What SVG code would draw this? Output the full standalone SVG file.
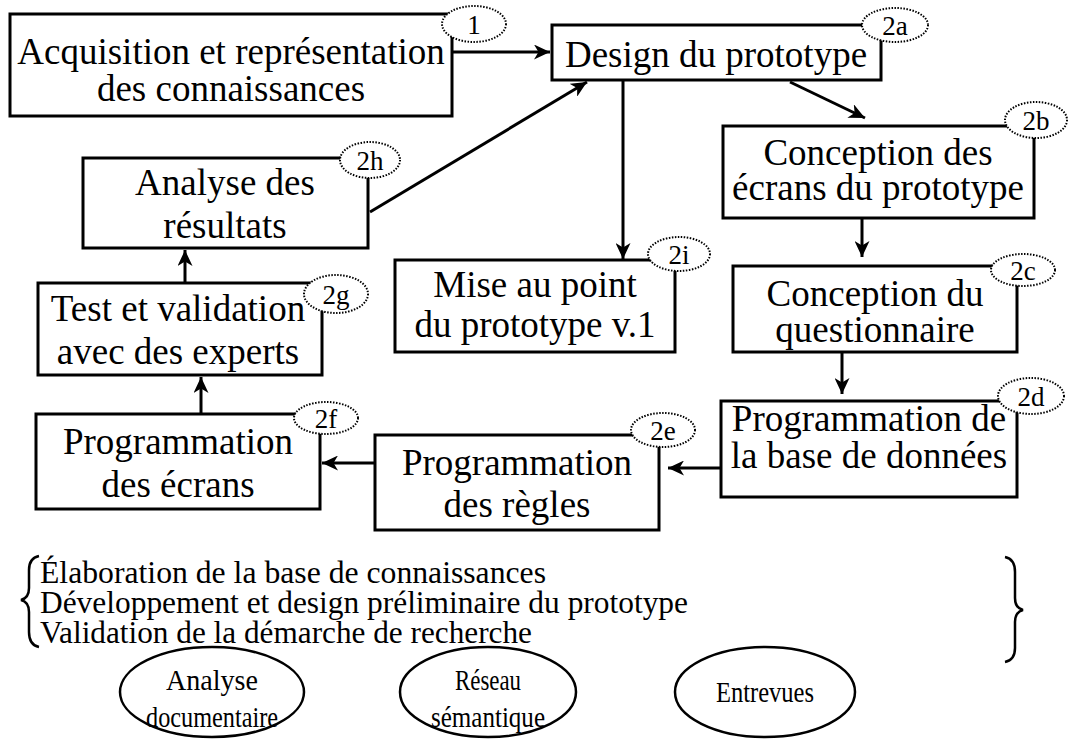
<svg xmlns="http://www.w3.org/2000/svg" width="1070" height="742" viewBox="0 0 1070 742">
<style>
.box{fill:#fff;stroke:#000;stroke-width:3}
.t{font-family:"Liberation Serif","Times New Roman",serif;font-size:37px;fill:#000;text-anchor:middle}
.tag{fill:#fff;stroke:#000;stroke-width:2;stroke-dasharray:1.5 1.5}
.tl{font-family:"Liberation Serif","Times New Roman",serif;font-size:27px;fill:#000;text-anchor:middle}
.c{fill:none;stroke:#000;stroke-width:3}
.b{font-family:"Liberation Serif","Times New Roman",serif;font-size:31px;fill:#000}
.ov{fill:#fff;stroke:#000;stroke-width:2.5}
.ot{font-family:"Liberation Serif","Times New Roman",serif;font-size:30px;fill:#000;text-anchor:middle}
</style>
<defs>
<marker id="ah" markerUnits="userSpaceOnUse" markerWidth="17" markerHeight="15" refX="16" refY="7.5" orient="auto">
<path d="M0,0 L16,7.5 L0,15 L4.5,7.5 z" fill="#000"/>
</marker>
</defs>
<rect width="1070" height="742" fill="#fff"/>

<g id="connectors">
<line class="c" x1="452" y1="52" x2="550" y2="52" marker-end="url(#ah)"/>
<line class="c" x1="623" y1="80" x2="623" y2="259" marker-end="url(#ah)"/>
<line class="c" x1="790" y1="82" x2="865" y2="118" marker-end="url(#ah)"/>
<line class="c" x1="370" y1="212" x2="587" y2="82" marker-end="url(#ah)"/>
<line class="c" x1="862" y1="218" x2="862" y2="257" marker-end="url(#ah)"/>
<line class="c" x1="842" y1="352" x2="842" y2="394" marker-end="url(#ah)"/>
<line class="c" x1="721" y1="468" x2="668" y2="468" marker-end="url(#ah)"/>
<line class="c" x1="375" y1="463" x2="322" y2="463" marker-end="url(#ah)"/>
<line class="c" x1="201" y1="414" x2="201" y2="377" marker-end="url(#ah)"/>
<line class="c" x1="185" y1="283" x2="185" y2="250" marker-end="url(#ah)"/>
</g>

<g id="n1">
<rect class="box" x="10" y="14" width="442" height="102"/>
<text class="t" x="231" y="64">Acquisition et représentation</text>
<text class="t" x="231" y="101">des connaissances</text>
<ellipse class="tag" cx="474" cy="24" rx="32" ry="18"/>
<text class="tl" x="474" y="34">1</text>
</g>

<g id="n2a">
<rect class="box" x="552" y="25" width="329" height="55"/>
<text class="t" x="716" y="67">Design du prototype</text>
<ellipse class="tag" cx="895" cy="25" rx="33" ry="17"/>
<text class="tl" x="895" y="35">2a</text>
</g>

<g id="n2b">
<rect class="box" x="723" y="126" width="311" height="92"/>
<text class="t" x="878" y="165">Conception des</text>
<text class="t" x="878" y="200">écrans du prototype</text>
<ellipse class="tag" cx="1036" cy="120" rx="31" ry="18"/>
<text class="tl" x="1036" y="130">2b</text>
</g>

<g id="n2c">
<rect class="box" x="733" y="266" width="284" height="86"/>
<text class="t" x="875" y="306">Conception du</text>
<text class="t" x="875" y="342">questionnaire</text>
<ellipse class="tag" cx="1023" cy="270" rx="32" ry="16"/>
<text class="tl" x="1023" y="280">2c</text>
</g>

<g id="n2d">
<rect class="box" x="721" y="401" width="296" height="96"/>
<text class="t" x="869" y="431">Programmation de</text>
<text class="t" x="869" y="468">la base de données</text>
<ellipse class="tag" cx="1031" cy="396" rx="33" ry="18"/>
<text class="tl" x="1031" y="406">2d</text>
</g>

<g id="n2e">
<rect class="box" x="375" y="435" width="284" height="95"/>
<text class="t" x="517" y="475">Programmation</text>
<text class="t" x="517" y="517">des règles</text>
<ellipse class="tag" cx="663" cy="430" rx="32" ry="17"/>
<text class="tl" x="663" y="440">2e</text>
</g>

<g id="n2f">
<rect class="box" x="36" y="414" width="284" height="95"/>
<text class="t" x="178" y="454">Programmation</text>
<text class="t" x="178" y="497">des écrans</text>
<ellipse class="tag" cx="326" cy="418" rx="32" ry="16"/>
<text class="tl" x="326" y="428">2f</text>
</g>

<g id="n2g">
<rect class="box" x="38" y="283" width="284" height="92"/>
<text class="t" x="178" y="321">Test et validation</text>
<text class="t" x="178" y="364">avec des experts</text>
<ellipse class="tag" cx="336" cy="294" rx="32" ry="19"/>
<text class="tl" x="336" y="304">2g</text>
</g>

<g id="n2h">
<rect class="box" x="83" y="158" width="285" height="90"/>
<text class="t" x="225" y="195">Analyse des</text>
<text class="t" x="225" y="238">résultats</text>
<ellipse class="tag" cx="370" cy="160" rx="30" ry="18"/>
<text class="tl" x="370" y="170">2h</text>
</g>

<g id="n2i">
<rect class="box" x="395" y="260" width="280" height="92"/>
<text class="t" x="535" y="297">Mise au point</text>
<text class="t" x="535" y="337">du prototype v.1</text>
<ellipse class="tag" cx="679" cy="254" rx="31" ry="17"/>
<text class="tl" x="679" y="264">2i</text>
</g>

<g id="phases">
<path d="M39,556 Q29,558 29,570 L29,588 Q29,598 21,600 Q29,602 29,612 L29,632 Q29,645 39,647" fill="none" stroke="#000" stroke-width="2.5"/>
<text class="b" x="40" y="583" textLength="506" lengthAdjust="spacingAndGlyphs">Élaboration de la base de connaissances</text>
<text class="b" x="40" y="613" textLength="648" lengthAdjust="spacingAndGlyphs">Développement et design préliminaire du prototype</text>
<text class="b" x="40" y="643" textLength="492" lengthAdjust="spacingAndGlyphs">Validation de la démarche de recherche</text>
<path d="M1005,557 Q1015,559 1015,572 L1015,598 Q1015,608 1023,610 Q1015,612 1015,622 L1015,648 Q1015,660 1005,662" fill="none" stroke="#000" stroke-width="2.5"/>
</g>

<g id="m1">
<ellipse class="ov" cx="212" cy="692" rx="92" ry="45"/>
<text class="ot" x="212" y="690" textLength="92" lengthAdjust="spacingAndGlyphs">Analyse</text>
<text class="ot" x="212" y="727" textLength="132" lengthAdjust="spacingAndGlyphs">documentaire</text>
</g>
<g id="m2">
<ellipse class="ov" cx="488" cy="692" rx="88" ry="45"/>
<text class="ot" x="488" y="690" textLength="66" lengthAdjust="spacingAndGlyphs">Réseau</text>
<text class="ot" x="488" y="727" textLength="114" lengthAdjust="spacingAndGlyphs">sémantique</text>
</g>
<g id="m3">
<ellipse class="ov" cx="765" cy="702" rx="90" ry="45" transform="translate(0,-10)"/>
<text class="ot" x="765" y="702" textLength="98" lengthAdjust="spacingAndGlyphs">Entrevues</text>
</g>
</svg>
